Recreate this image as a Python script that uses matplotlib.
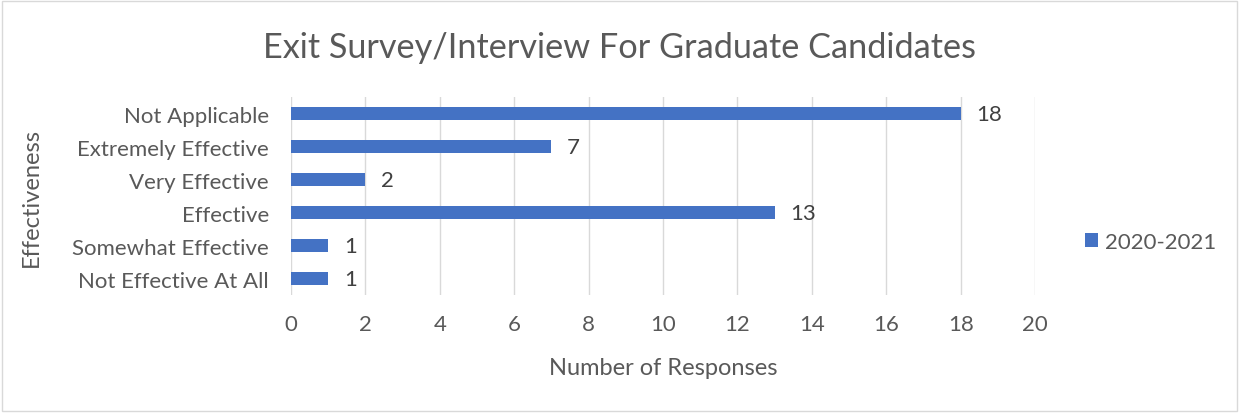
import matplotlib
matplotlib.use('Agg')
import matplotlib.pyplot as plt
from matplotlib.patches import Rectangle

categories = ["Not Effective At All", "Somewhat Effective", "Effective",
              "Very Effective", "Extremely Effective", "Not Applicable"]
responses = [1, 1, 13, 2, 7, 18]
series_name = "2020-2021"
x_ticks = [0, 2, 4, 6, 8, 10, 12, 14, 16, 18, 20]

bar_color = "#4472C4"
text_color = "#595959"
plt.rcParams['font.family'] = ['Lato', 'DejaVu Sans']

fig = plt.figure(figsize=(12.39, 4.14), dpi=100)
fig.patches.append(Rectangle((0.002, 0.004), 0.996, 0.992, transform=fig.transFigure,
                             fill=False, edgecolor="#D9D9D9", linewidth=1))
ax = fig.add_axes([0.2349, 0.285, 0.6005, 0.478])

y = range(len(categories))
ax.barh(y, responses, height=0.38, color=bar_color, label=series_name, zorder=3)
for yi, v in zip(y, responses):
    ax.text(v + 0.42, yi, str(v), va='center', ha='left', fontsize=16, color="#404040")

ax.set_xlim(0, 20)
ax.set_ylim(-0.5, len(categories) - 0.5)
ax.set_xticks(x_ticks)
ax.set_yticks(list(y))
ax.set_yticklabels(categories)
ax.tick_params(axis='both', length=0, labelsize=16, colors=text_color)
ax.tick_params(axis='x', pad=14)
ax.tick_params(axis='y', pad=16)
ax.grid(axis='x', color="#D9D9D9", linewidth=1, zorder=0)
for s in ax.spines.values():
    s.set_visible(False)

ax.set_xlabel("Number of Responses", fontsize=17, color=text_color, labelpad=16)
ax.set_ylabel("Effectiveness", fontsize=17, color=text_color, labelpad=22)
fig.text(0.5, 0.885, "Exit Survey/Interview For Graduate Candidates", ha='center',
         va='center', fontsize=24.7, color=text_color)

ax.legend(loc='center left', bbox_to_anchor=(1.04, 0.27), frameon=False,
          fontsize=16, handlelength=0.6, handleheight=0.6, handletextpad=0.3,
          labelcolor=text_color)

fig.savefig("out.png", dpi=100)
